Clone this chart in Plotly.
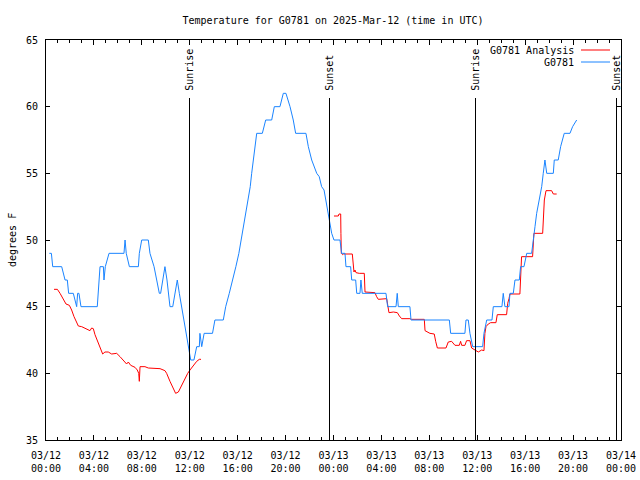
import plotly.graph_objects as go
import pandas as pd

# ---------------- data ----------------
BASE = "2025-03-12 00:00"

# G0781 observations: hours since 03/12 00:00 UTC, temperature (F)
obs_hours = [0.28, 0.45, 0.56, 1.31, 1.59, 1.78, 1.89, 2.28, 2.56, 2.64, 2.75, 2.92, 4.28, 4.51,
             4.79, 4.84, 4.95, 5.26, 6.51, 6.6, 6.7, 6.96, 7.71, 7.79, 7.99, 8.54, 8.68, 9.02,
             9.24, 9.46, 9.57, 9.75, 9.93, 10.1, 10.25, 10.35, 10.58, 10.77, 10.96, 11.13, 11.32,
             11.52, 11.69, 11.9, 12.08, 12.35, 12.58, 12.8, 12.85, 13.0, 13.2, 13.9, 14.1, 14.8,
             15.0, 15.3, 15.6, 15.85, 16.1, 16.47, 16.7, 16.9, 17.05, 17.17, 17.3, 17.4, 17.59,
             18.06, 18.34, 18.84, 19.06, 19.53, 19.81, 20.03, 20.37, 20.64, 20.84, 21.7, 21.9,
             22.18, 22.37, 22.6, 22.81, 23.01, 23.21, 23.48, 23.65, 23.85, 24.04, 24.54, 24.68,
             24.96, 25.04, 25.43, 25.52, 25.85, 25.94, 26.21, 26.29, 26.4, 28.38, 28.52, 29.22,
             29.32, 29.41, 30.38, 30.47, 33.67, 33.78, 34.97, 35.06, 35.25, 35.39, 35.62, 36.45,
             36.56, 36.79, 37.23, 37.34, 38.06, 38.17, 38.31, 38.65, 38.73, 39.01, 39.15, 39.51,
             39.62, 39.9, 40.13, 40.54, 40.65, 40.82, 40.96, 41.18, 41.38, 41.51, 41.65, 41.8,
             42.35, 42.43, 42.76, 42.96, 43.26, 43.74, 43.96, 44.3]
obs_temps = [49, 49, 48, 48, 47, 47, 46, 46, 45, 46, 46, 45, 45, 48,
             48, 47, 48, 49, 49, 50, 49, 48, 48, 49, 50, 50, 49, 48,
             47, 46, 46, 47, 48, 47, 46, 45, 45, 46, 47, 46, 45,
             44, 43, 42, 41, 41, 42, 42, 43, 42, 43, 43, 44, 44,
             45, 46, 47, 48, 49, 51, 52, 53, 54, 55, 56, 57, 58,
             58, 59, 59, 60, 60, 61, 61, 60, 59, 58, 58, 57,
             56, 55.5, 55, 54.75, 54, 53.75, 52.25, 51.5, 50.5, 50, 50, 49,
             49, 48, 48, 47, 47, 46, 46, 47, 46, 46, 45, 45,
             46, 45, 45, 44, 44, 43, 43, 44, 44, 43, 42, 42,
             43, 44, 44, 45, 45, 46, 45, 45, 46, 46, 47, 47,
             48, 48, 49, 49, 50, 51, 52, 53, 54, 55, 56, 55,
             55, 56, 56, 57, 58, 58, 58.5, 59]

# G0781 Analysis: hours since 03/12 00:00 UTC, temperature (F); None = gap
ana_hours = [0.67, 0.95, 1.17, 1.45, 1.67, 1.95, 2.14, 2.34, 2.5, 2.7, 2.98, 3.26, 3.67, 3.81,
             3.95, 4.09, 4.37, 4.56, 4.73, 4.92, 5.2, 5.48, 5.9, 6.18, 6.46, 6.73, 6.87, 7.07,
             7.43, 7.62, 7.74, 7.79, 7.85, 8.26, 8.54, 9.1, 9.52, 9.93, 10.07, 10.35, 10.63,
             10.82, 11.05, 11.32, 11.6, 11.83, 12.02, 12.3, 12.58, 12.8, 12.94, 18.0,
             24.04, 24.4, 24.46, 24.6, 24.62, 24.65, 24.76, 24.82, 25.57, 25.63, 25.71, 25.79,
             25.88, 26.15, 26.57, 26.63, 27.46, 27.6, 27.74, 28.44, 28.63, 29.0, 29.33, 29.5,
             29.69, 30.38, 30.52, 31.58, 31.64, 32.05, 32.41, 32.53, 32.67, 33.39, 33.58, 33.86,
             34.0, 34.14, 34.5, 34.61, 34.7, 34.97, 35.11, 35.39, 35.53, 35.81, 36.09, 36.37,
             36.56, 36.64, 36.73, 36.92, 37.12, 37.56, 37.67, 38.45, 38.54, 38.65, 38.73, 39.56,
             39.62, 39.7, 40.62, 40.68, 40.73, 41.46, 41.51, 41.6, 41.74, 42.21, 42.35, 42.63]
ana_temps = [46.3, 46.3, 46.0, 45.5, 45.2, 45.1, 44.75, 44.25, 43.9, 43.55, 43.5, 43.4, 43.2, 43.4,
             43.35, 42.9, 42.25, 41.75, 41.45, 41.6, 41.6, 41.45, 41.5, 41.25, 40.95, 40.7, 40.85, 40.6,
             40.45, 40.25, 40.0, 39.4, 40.5, 40.5, 40.4, 40.4, 40.35, 40.2, 40.0, 39.4, 38.8,
             38.5, 38.6, 39.1, 39.55, 40.0, 40.25, 40.6, 40.9, 41.05, 41.05, None,
             51.8, 51.8, 51.95, 51.95, 50.5, 49.0, 48.9, 48.95, 48.95, 48.25, 47.6, 47.75,
             47.55, 47.5, 47.5, 46.1, 46.05, 45.75, 45.55, 45.6, 44.55, 44.6, 44.55, 44.3,
             44.1, 44.1, 44.05, 44.05, 43.2, 43.0, 42.95, 42.4, 41.9, 41.9, 42.35, 42.4,
             42.2, 42.1, 42.1, 42.4, 42.1, 42.1, 42.45, 42.45, 41.9, 41.75, 41.6, 41.75,
             41.7, 43.0, 43.5, 43.7, 43.8, 43.8, 44.4, 44.4, 45.25, 45.6, 45.95, 45.95,
             47.5, 48.75, 48.75, 49.75, 50.5, 50.5, 52.0, 53.0, 53.7, 53.7, 53.45, 53.45]

# Sun events (hours since 03/12 00:00 UTC)
sun_labels = ["Sunrise", "Sunset", "Sunrise", "Sunset"]
sun_hours = [11.979, 23.666, 35.854, 47.624]

series_names = ["G0781 Analysis", "G0781"]
series_colors = ["#ff0000", "#1a84ff"]

# ---------------- build ----------------
base = pd.Timestamp(BASE)
def to_time(hs):
    return [base + pd.Timedelta(hours=h) for h in hs]

FONT = "DejaVu Sans Mono"
FS = 10

fig = go.Figure()
fig.add_trace(go.Scatter(x=to_time(ana_hours), y=ana_temps, mode="lines",
                         name=series_names[0], connectgaps=False,
                         line=dict(color=series_colors[0], width=1)))
fig.add_trace(go.Scatter(x=to_time(obs_hours), y=obs_temps, mode="lines",
                         name=series_names[1],
                         line=dict(color=series_colors[1], width=1)))

ymin, ymax = 35, 65
sun_line_top = 60.65
for lab, h in zip(sun_labels, sun_hours):
    t = base + pd.Timedelta(hours=h)
    fig.add_shape(type="line", xref="x", yref="y", x0=t, x1=t, y0=ymin, y1=sun_line_top,
                  line=dict(color="black", width=1))
    fig.add_annotation(x=t, y=61.0, xref="x", yref="y", text=lab, textangle=-90,
                       showarrow=False, xanchor="center", yanchor="bottom",
                       font=dict(family=FONT, size=FS, color="black"))

# gnuplot-style legend (text right-aligned, sample line to the right)
L, R, T, B = 46, 621, 40, 440
def px(xp):
    return (xp - L) / (R - L)
def py(yp):
    return (B - yp) / (B - T)
for i, (nm, col) in enumerate(zip(series_names, series_colors)):
    yy = 50 + 12 * i
    fig.add_annotation(x=px(576), y=py(yy), xref="paper", yref="paper", text=nm,
                       showarrow=False, xanchor="right", yanchor="middle",
                       font=dict(family=FONT, size=FS, color="black"))
    fig.add_shape(type="line", xref="paper", yref="paper", x0=px(581), x1=px(610),
                  y0=py(yy), y1=py(yy), line=dict(color=col, width=1))

fig.add_annotation(x=0, y=0.5, xref="paper", yref="paper", text="degrees F", textangle=-90,
                   showarrow=False, xanchor="center", yanchor="middle", xshift=-34,
                   font=dict(family=FONT, size=FS, color="black"))

fig.update_layout(
    width=640, height=480, autosize=False,
    margin=dict(l=L, r=640 - R, t=T, b=480 - B, autoexpand=False),
    paper_bgcolor="white", plot_bgcolor="white",
    showlegend=False, hovermode=False,
    font=dict(family=FONT, size=FS, color="black"),
    title=dict(text="Temperature for G0781 on 2025-Mar-12 (time in UTC)",
               x=(333 / 640), xanchor="center", y=1 - 20 / 480, yanchor="middle",
               font=dict(family=FONT, size=FS, color="black")),
    xaxis=dict(type="date", range=[base, base + pd.Timedelta(hours=48)],
               automargin=False,
               showline=True, linecolor="black", linewidth=1, mirror="allticks",
               ticks="inside", ticklen=5, tickcolor="black", tickwidth=1,
               tick0=BASE, dtick=4 * 3600 * 1000, tickformat="%m/%d<br>%H:%M",
               ticklabelstandoff=6,
               showgrid=False, zeroline=False,
               tickfont=dict(family=FONT, size=FS, color="black"),
               minor=dict(dtick=3600 * 1000, ticks="inside", ticklen=3,
                          tickcolor="black", showgrid=False)),
    yaxis=dict(range=[ymin, ymax], tick0=35, dtick=5,
               automargin=False,
               showline=True, linecolor="black", linewidth=1, mirror="allticks",
               ticks="inside", ticklen=4, tickcolor="black", tickwidth=1,
               ticklabelstandoff=5,
               showgrid=False, zeroline=False,
               tickfont=dict(family=FONT, size=FS, color="black")),
)

fig.write_html("out.html", config={"displayModeBar": False, "responsive": False},
               post_script="document.body.style.margin='0';")
